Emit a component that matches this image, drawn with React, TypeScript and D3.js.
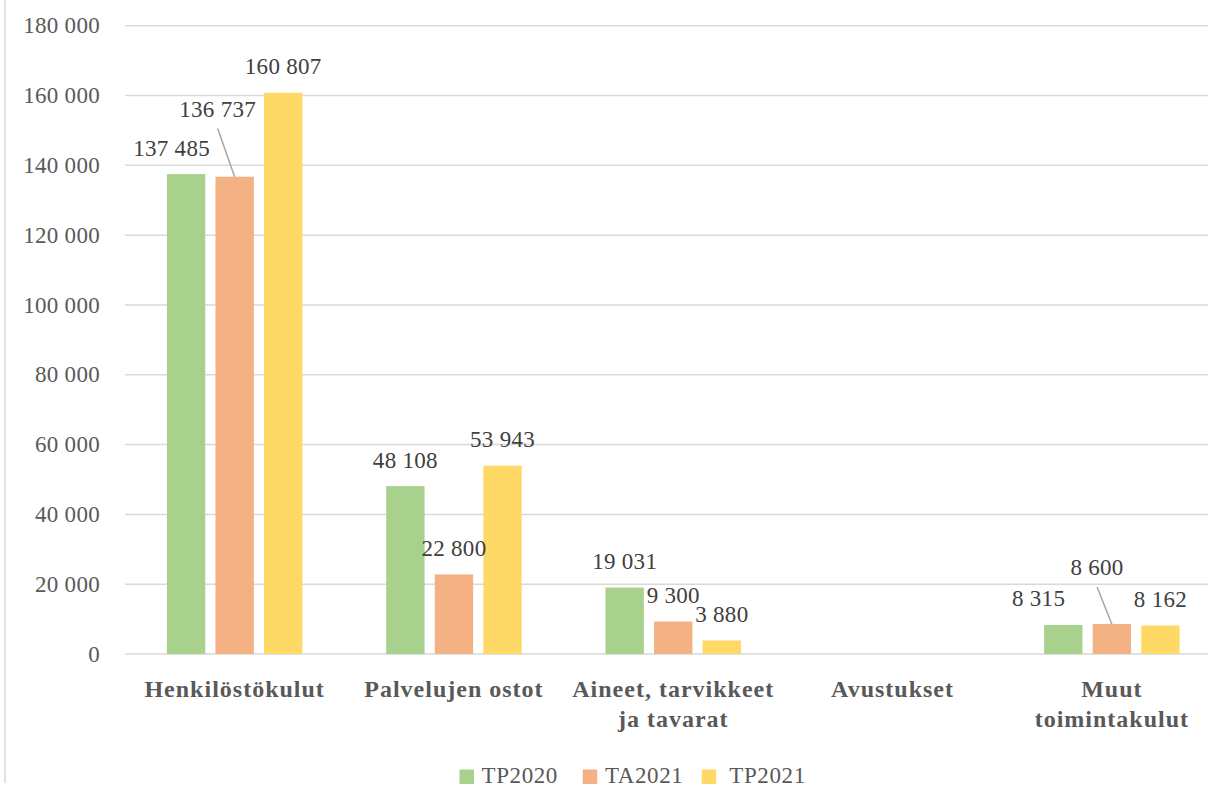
import React from "react";
import * as d3 from "d3";

const categories: string[][] = [
  ["Henkilöstökulut"],
  ["Palvelujen ostot"],
  ["Aineet, tarvikkeet", "ja tavarat"],
  ["Avustukset"],
  ["Muut", "toimintakulut"],
];
const seriesNames = ["TP2020", "TA2021", "TP2021"];
const tp2020: (number | null)[] = [137485, 48108, 19031, null, 8315];
const ta2021: (number | null)[] = [136737, 22800, 9300, null, 8600];
const tp2021: (number | null)[] = [160807, 53943, 3880, null, 8162];
const seriesValues = [tp2020, ta2021, tp2021];
const yTicks = [0, 20000, 40000, 60000, 80000, 100000, 120000, 140000, 160000, 180000];

const colors = ["#A9D18E", "#F4B183", "#FFD966"];

// manual label adjustments (series index, category index) -> offset, leader line
const labelAdjust: { s: number; c: number; dx: number; dy: number; leader: boolean }[] = [
  { s: 0, c: 0, dx: -14.5, dy: 0, leader: false },
  { s: 1, c: 0, dx: -17, dy: -41.7, leader: true },
  { s: 0, c: 4, dx: -24.7, dy: 0, leader: false },
  { s: 1, c: 4, dx: -14.8, dy: -30.5, leader: true },
];

const W = 1208;
const H = 787;
const FONT = "'Liberation Serif', 'Times New Roman', serif";

const locale = d3.formatLocale({ thousands: " ", grouping: [3], decimal: ",", currency: ["", "€"] });
const fmt = locale.format(",");

export default function App() {
  const x0 = d3
    .scaleBand<number>()
    .domain(categories.map((_, i) => i))
    .range([125, 1221.5])
    .padding(0);
  const groupW = 135.5;
  const x1 = d3.scaleBand<number>().domain([0, 1, 2]).range([0, groupW]).paddingInner(0.21).paddingOuter(0);
  const offset = (x0.bandwidth() - groupW) / 2;
  const y = d3.scaleLinear().domain([0, 180000]).range([654, 25.7]);

  const bars: React.ReactNode[] = [];
  const labels: React.ReactNode[] = [];
  seriesValues.forEach((vals, s) => {
    vals.forEach((v, c) => {
      if (v == null) return;
      const bx = (x0(c) as number) + offset + (x1(s) as number);
      const bw = x1.bandwidth();
      const top = y(v);
      bars.push(
        <rect key={`b${s}-${c}`} x={bx} y={top} width={bw} height={y(0) - top} fill={colors[s]} />
      );
      const adj = labelAdjust.find((a) => a.s === s && a.c === c);
      const cx = bx + bw / 2;
      const lx = cx + (adj ? adj.dx : 0);
      const ly = top - 18.5 + (adj ? adj.dy : 0);
      if (adj && adj.leader) {
        labels.push(
          <line key={`l${s}-${c}`} x1={lx} y1={ly + 12} x2={cx} y2={top} stroke="#A6A6A6" strokeWidth={1.5} />
        );
      }
      labels.push(
        <text
          key={`t${s}-${c}`}
          x={lx}
          y={ly}
          textAnchor="middle"
          fontSize={23}
          letterSpacing={0.3}
          fill="#404040"
          fontFamily={FONT}
        >
          {fmt(v)}
        </text>
      );
    });
  });

  const legendItems = [
    { sq: 459.5, tx: 481.5 },
    { sq: 582.7, tx: 605 },
    { sq: 701.7, tx: 729.3 },
  ];

  return (
    <svg
      width={W}
      height={H}
      style={{ position: "absolute", left: 0, top: 0, background: "#fff" }}
      fontFamily={FONT}
    >
      <rect x={0} y={0} width={W} height={H} fill="#fff" />
      <line x1={5} y1={0} x2={5} y2={783} stroke="#D9D9D9" strokeWidth={1.5} />
      {yTicks.map((t) => (
        <g key={t}>
          <line x1={125} x2={W} y1={y(t)} y2={y(t)} stroke="#D9D9D9" strokeWidth={1.5} />
          <text x={100} y={y(t) + 7.6} textAnchor="end" fontSize={23} letterSpacing={0.3} fill="#595959">
            {fmt(t)}
          </text>
        </g>
      ))}
      {bars}
      {labels}
      {categories.map((lines, c) => (
        <text
          key={`c${c}`}
          x={(x0(c) as number) + x0.bandwidth() / 2}
          y={696.5}
          textAnchor="middle"
          fontSize={24}
          fontWeight="bold"
          letterSpacing={1}
          fill="#595959"
        >
          {lines.map((ln, i) => (
            <tspan key={i} x={(x0(c) as number) + x0.bandwidth() / 2} dy={i === 0 ? 0 : 30}>
              {ln}
            </tspan>
          ))}
        </text>
      ))}
      {seriesNames.map((name, i) => (
        <g key={name}>
          <rect x={legendItems[i].sq} y={769.5} width={14.5} height={14.5} fill={colors[i]} />
          <text x={legendItems[i].tx} y={782.5} fontSize={23} letterSpacing={0.6} fill="#595959">
            {name}
          </text>
        </g>
      ))}
    </svg>
  );
}
